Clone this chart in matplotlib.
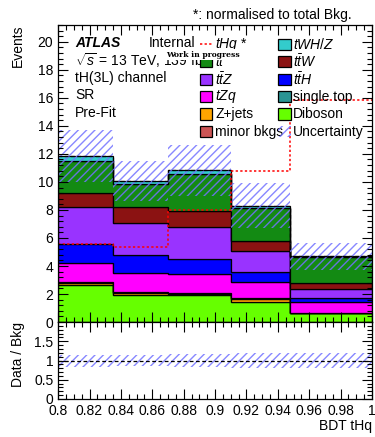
import numpy as np
import matplotlib
matplotlib.use("Agg")
import matplotlib.pyplot as plt
from matplotlib.patches import Rectangle
from matplotlib.lines import Line2D
from matplotlib.ticker import MultipleLocator

plt.rcParams['font.family'] = ['Liberation Sans', 'DejaVu Sans']
plt.rcParams['mathtext.fontset'] = 'custom'
plt.rcParams['mathtext.rm'] = 'Liberation Sans'
plt.rcParams['mathtext.it'] = 'Liberation Sans:italic'
plt.rcParams['mathtext.bf'] = 'Liberation Sans:bold'
plt.rcParams['hatch.linewidth'] = 1.0

# -----------------------------
# DATA (events per BDT bin)
# -----------------------------

bin_edges = [0.8, 0.835, 0.87, 0.91, 0.948, 1.0]

minor_bkgs = [0.02, 0.02, 0.02, 0.02, 0.01]
diboson    = [2.62, 1.93, 1.90, 1.43, 0.61]
zjets      = [0.17, 0.15, 0.06, 0.17, 0.00]
single_top = [0.02, 0.05, 0.07, 0.12, 0.02]
tzq        = [1.41, 1.33, 1.38, 1.14, 0.81]
tth        = [1.31, 1.31, 1.07, 0.67, 0.29]
ttz        = [2.64, 2.31, 2.26, 1.52, 0.62]
ttw        = [1.02, 1.12, 1.14, 0.72, 0.40]
ttbar      = [2.31, 1.60, 2.65, 2.33, 1.88]
twhz       = [0.34, 0.25, 0.27, 0.19, 0.04]

bkg_unc = [1.85, 1.40, 1.80, 1.60, 0.95]

# signal shape, normalised to the total background
thq = [5.55, 5.38, 8.00, 10.79, 15.86]

# stacked bottom -> top
stack = [
    (minor_bkgs, "#cc5555"),
    (diboson, "#66ff00"),
    (zjets, "#ffa500"),
    (single_top, "#2a9494"),
    (tzq, "#ff00ff"),
    (tth, "#0000ff"),
    (ttz, "#9933ff"),
    (ttw, "#8b1212"),
    (ttbar, "#138a13"),
    (twhz, "#33cccc"),
]

HATCH_COL = (0.45, 0.45, 1.0, 0.85)

# -----------------------------
# FIGURE
# -----------------------------

fig = plt.figure(figsize=(3.75, 4.37), dpi=100)
ax = fig.add_axes([0.155, 0.263, 0.837, 0.680])
rax = fig.add_axes([0.155, 0.087, 0.837, 0.176], sharex=ax)

edges = np.array(bin_edges)
bottom = np.zeros(len(thq))
for vals, col in stack:
    top = bottom + np.array(vals)
    ax.stairs(top, edges, baseline=bottom.copy(), fill=True,
              facecolor=col, edgecolor="black", linewidth=0.9)
    bottom = top
total = bottom
unc = np.array(bkg_unc)

ax.stairs(total + unc, edges, baseline=total - unc, fill=True,
          facecolor="none", edgecolor=HATCH_COL, hatch="////", linewidth=0)
ax.stairs(total, edges, baseline=None, color="black", linestyle=(0, (3, 2)),
          linewidth=0.9)
ax.stairs(thq, edges, baseline=None, color="red", linestyle=(0, (1.5, 1.5)),
          linewidth=1.1)

ax.set_xlim(0.8, 1.0)
ax.set_ylim(0, 21.2)
ax.set_ylabel("Events", loc="top", fontsize=10)
ax.yaxis.set_major_locator(MultipleLocator(2))
ax.yaxis.set_minor_locator(MultipleLocator(0.4))
ax.xaxis.set_major_locator(MultipleLocator(0.02))
ax.xaxis.set_minor_locator(MultipleLocator(0.005))
ax.tick_params(labelbottom=False)

# ratio panel
rel = unc / total
rax.stairs(1 + rel, edges, baseline=1 - rel, fill=True,
           facecolor="none", edgecolor=HATCH_COL, hatch="////", linewidth=0)
rax.axhline(1, color="black", linestyle=(0, (3, 2)), linewidth=0.9)
rax.set_ylim(0, 2)
rax.set_yticks([0, 0.5, 1, 1.5])
rax.set_yticklabels(["0", "0.5", "1", "1.5"])
rax.yaxis.set_minor_locator(MultipleLocator(0.1))
rax.set_xticks(np.arange(0.8, 1.001, 0.02))
rax.set_xticklabels(["0.8", "0.82", "0.84", "0.86", "0.88", "0.9",
                     "0.92", "0.94", "0.96", "0.98", "1"])
rax.set_ylabel("Data / Bkg", loc="top", fontsize=10)
rax.set_xlabel("BDT tHq", loc="right", fontsize=10, labelpad=1)

for a in (ax, rax):
    a.tick_params(which="both", direction="in", top=True, right=True,
                  labelsize=10, width=0.8)
    a.tick_params(which="major", length=7)
    a.tick_params(which="minor", length=3.5)
    for s in a.spines.values():
        s.set_linewidth(0.9)
ax.yaxis.set_label_coords(-0.105, 1.0)
rax.yaxis.set_label_coords(-0.105, 1.0)

# -----------------------------
# LABELS
# -----------------------------

tx = 0.054
ax.text(tx, 0.940, "ATLAS", transform=ax.transAxes, fontsize=10,
        fontweight="bold", fontstyle="italic", va="center")
ax.text(0.289, 0.940, "Internal", transform=ax.transAxes, fontsize=10,
        va="center")
ax.text(tx, 0.880, r"$\sqrt{s}$ = 13 TeV, 139 fb$^{-1}$",
        transform=ax.transAxes, fontsize=10, va="center")
ax.text(tx, 0.822, "tH(3L) channel", transform=ax.transAxes, fontsize=10,
        va="center")
ax.text(tx, 0.763, "SR", transform=ax.transAxes, fontsize=10, va="center")
ax.text(tx, 0.705, "Pre-Fit", transform=ax.transAxes, fontsize=10,
        va="center")
fig.text(0.725, 0.966, "*: normalised to total Bkg.", fontsize=10,
         ha="center", va="center")

# legend, two columns filled row by row
entries = [
    ("line", "red", r"$tHq$ *"),
    ("box", "#33cccc", r"$tWH/Z$"),
    ("box", "#138a13", r"$t\bar{t}$"),
    ("box", "#8b1212", r"$t\bar{t}W$"),
    ("box", "#9933ff", r"$t\bar{t}Z$"),
    ("box", "#0000ff", r"$t\bar{t}H$"),
    ("box", "#ff00ff", r"$tZq$"),
    ("box", "#2a9494", "single top"),
    ("box", "#ffa500", "Z+jets"),
    ("box", "#66ff00", "Diboson"),
    ("box", "#cc5555", "minor bkgs"),
    ("hatch", HATCH_COL, "Uncertainty"),
]
col_x = [0.451, 0.702]
lab_x = [0.500, 0.748]
bw, bh = 0.040, 0.038
for i, (kind, col, lab) in enumerate(entries):
    c, r = i % 2, i // 2
    yc = 0.935 - r * 0.0588
    x0 = col_x[c]
    if kind == "line":
        ax.add_line(Line2D([x0, x0 + bw], [yc, yc], transform=ax.transAxes,
                           color=col, linestyle=(0, (1.5, 1.5)),
                           linewidth=1.1, zorder=6))
    elif kind == "box":
        ax.add_patch(Rectangle((x0, yc - bh / 2), bw, bh, transform=ax.transAxes,
                               facecolor=col, edgecolor="black", linewidth=0.9,
                               zorder=6))
    else:
        ax.add_patch(Rectangle((x0, yc - bh / 2), bw, bh, transform=ax.transAxes,
                               facecolor="none", edgecolor=col, hatch="////",
                               linewidth=0, zorder=6))
    ax.text(lab_x[c], yc, lab, transform=ax.transAxes, fontsize=10,
            va="center", zorder=6)

ax.text(0.343, 0.900, "Work in progress", transform=ax.transAxes,
        fontsize=5.5, fontweight="bold", family="DejaVu Serif", va="center",
        zorder=7, bbox=dict(facecolor="white", edgecolor="none", pad=1.0))

fig.savefig("out.png", dpi=100)
